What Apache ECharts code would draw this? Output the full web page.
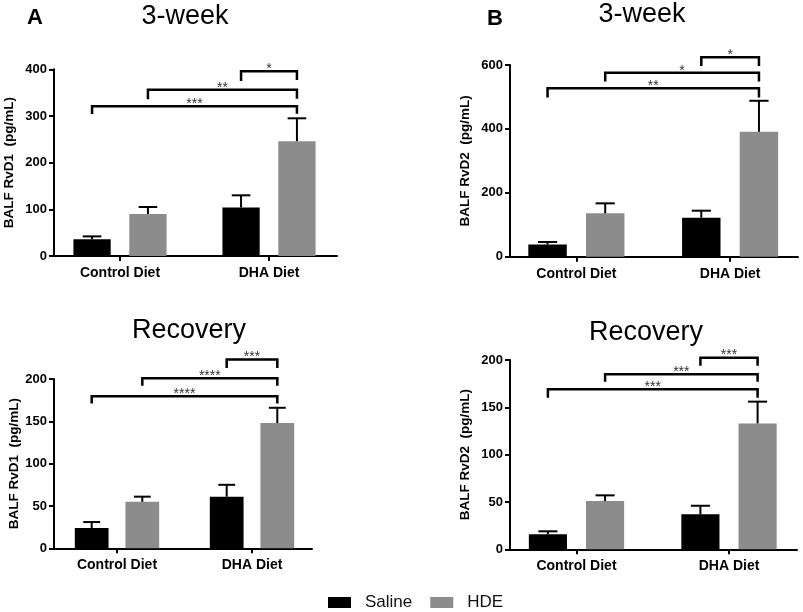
<!DOCTYPE html>
<html><head><meta charset="utf-8">
<script src="https://cdn.jsdelivr.net/npm/echarts@6/dist/echarts.min.js"></script>
<style>html,body{margin:0;padding:0;background:#fff}#c{width:803px;height:612px}</style>
</head><body><div id="c"></div><script>
// ---------- data ----------
const categories = ['Control Diet', 'DHA Diet'];
const groupNames = ['Saline', 'HDE'];
const panelLetters = ['A', 'B', '', ''];
const panelTitles = ['3-week', '3-week', 'Recovery', 'Recovery'];
const yAxisNames = ['BALF RvD1  (pg/mL)', 'BALF RvD2  (pg/mL)', 'BALF RvD1  (pg/mL)', 'BALF RvD2  (pg/mL)'];
const yMaxTicks = [400, 600, 200, 200];
const yTickSteps = [100, 200, 50, 50];

// Panel A: 3-week RvD1
const weekRvD1Saline = [36, 104];
const weekRvD1SalineErr = [6, 26];
const weekRvD1HDE = [90, 246];
const weekRvD1HDEErr = [15, 49];
// Panel B: 3-week RvD2
const weekRvD2Saline = [38, 122];
const weekRvD2SalineErr = [8, 22];
const weekRvD2HDE = [136, 391];
const weekRvD2HDEErr = [31, 97];
// Panel C: Recovery RvD1
const recRvD1Saline = [24, 61];
const recRvD1SalineErr = [7, 14];
const recRvD1HDE = [55, 148];
const recRvD1HDEErr = [6, 18];
// Panel D: Recovery RvD2
const recRvD2Saline = [16, 37];
const recRvD2SalineErr = [3, 9];
const recRvD2HDE = [51, 133];
const recRvD2HDEErr = [6, 23];

// significance brackets: [fromCategory, fromGroup, toCategory, toGroup, lineY, leftEndY, rightEndY]
const weekRvD1Brackets = [[1, 0, 1, 1, 396, 375, 377], [0, 1, 1, 1, 356, 336, 337], [0, 0, 1, 1, 321, 304, 305]];
const weekRvD1Stars = ['*', '**', '***'];
const weekRvD2Brackets = [[1, 0, 1, 1, 624, 597, 597], [0, 1, 1, 1, 576, 548, 548], [0, 0, 1, 1, 527, 498, 498]];
const weekRvD2Stars = ['*', '*', '**'];
const recRvD1Brackets = [[1, 0, 1, 1, 223, 213, 213], [0, 1, 1, 1, 201, 192, 192], [0, 0, 1, 1, 179.5, 171, 171]];
const recRvD1Stars = ['***', '****', '****'];
const recRvD2Brackets = [[1, 0, 1, 1, 202.5, 194, 194], [0, 1, 1, 1, 185, 177, 177], [0, 0, 1, 1, 169, 160, 160]];
const recRvD2Stars = ['***', '***', '***'];

const panels = [
  { saline: weekRvD1Saline, salineErr: weekRvD1SalineErr, hde: weekRvD1HDE, hdeErr: weekRvD1HDEErr, brackets: weekRvD1Brackets, stars: weekRvD1Stars },
  { saline: weekRvD2Saline, salineErr: weekRvD2SalineErr, hde: weekRvD2HDE, hdeErr: weekRvD2HDEErr, brackets: weekRvD2Brackets, stars: weekRvD2Stars },
  { saline: recRvD1Saline, salineErr: recRvD1SalineErr, hde: recRvD1HDE, hdeErr: recRvD1HDEErr, brackets: recRvD1Brackets, stars: recRvD1Stars },
  { saline: recRvD2Saline, salineErr: recRvD2SalineErr, hde: recRvD2HDE, hdeErr: recRvD2HDEErr, brackets: recRvD2Brackets, stars: recRvD2Stars }
];

// ---------- layout & style ----------
const FONT = '"Liberation Sans", Arial, Helvetica, sans-serif';
const COLORS = ['#000000', '#8c8c8c'];
const BAR_W = 0.25, BAR_GAP = 0.5;
const OFF = (BAR_W + BAR_W * BAR_GAP) / 2;
const layouts = [
  { top: 69.3, bottom: 256, axisL: 54, axisR: 337, dataL: 45.5, dataR: 343.5, nameGap: 38, titleX: 185, titleY: 3, letterX: 27, letterY: 6.5 },
  { top: 65, bottom: 256.7, axisL: 510, axisR: 798, dataL: 499.5, dataR: 807, nameGap: 38, titleX: 642, titleY: 1, letterX: 487, letterY: 7.5 },
  { top: 379, bottom: 548.3, axisL: 54, axisR: 312, dataL: 49.5, dataR: 319.5, nameGap: 32, titleX: 189, titleY: 317.5 },
  { top: 360, bottom: 549.3, axisL: 510, axisR: 797, dataL: 500.25, dataR: 805.25, nameGap: 38, titleX: 646, titleY: 319 }
];

function groupX(api, cat, g) {
  const band = api.size([1, 0])[0];
  const p = api.coord([cat, 0]);
  return p[0] + (g === 0 ? -1 : 1) * OFF * band;
}

function renderError(params, api) {
  const cat = api.value(0), g = api.value(1);
  const band = api.size([1, 0])[0];
  const x = groupX(api, cat, g);
  const yMean = api.coord([cat, api.value(2)])[1];
  const yUp = api.coord([cat, api.value(3)])[1];
  const cap = band * BAR_W * 0.25;
  const st = { stroke: '#000', lineWidth: 2 };
  return { type: 'group', children: [
    { type: 'line', shape: { x1: x, y1: yMean, x2: x, y2: yUp }, style: st },
    { type: 'line', shape: { x1: x - cap, y1: yUp, x2: x + cap, y2: yUp }, style: st }
  ] };
}

function makeBracketRenderer(stars) {
  return function (params, api) {
    const x1 = groupX(api, api.value(0), api.value(1));
    const x2 = groupX(api, api.value(2), api.value(3));
    const yL = api.coord([0, api.value(4)])[1];
    const yB1 = api.coord([0, api.value(5)])[1];
    const yB2 = api.coord([0, api.value(6)])[1];
    return { type: 'group', children: [
      { type: 'polyline', shape: { points: [[x1, yB1], [x1, yL], [x2, yL], [x2, yB2]] },
        style: { stroke: '#000', lineWidth: 2.5, fill: null } },
      { type: 'text', x: (x1 + x2) / 2, y: yL - 2,
        style: { text: stars[params.dataIndex], align: 'center', verticalAlign: 'middle',
          fontSize: 14, fontFamily: FONT, fill: '#333' } }
    ] };
  };
}

const grid = [], xAxis = [], yAxis = [], series = [], graphic = [];
panels.forEach((p, i) => {
  const L = layouts[i];
  const dg = 2 * i, ag = 2 * i + 1;
  grid.push({ left: L.dataL, top: L.top, width: L.dataR - L.dataL, height: L.bottom - L.top, outerBoundsMode: 'none', containLabel: false });
  grid.push({ left: L.axisL, top: L.top, width: L.axisR - L.axisL, height: L.bottom - L.top, outerBoundsMode: 'none', containLabel: false });
  xAxis.push({ gridIndex: dg, type: 'category', data: categories,
    axisLine: { show: false },
    axisTick: { show: true, alignWithLabel: true, length: 5, lineStyle: { color: '#000', width: 2 } },
    axisLabel: { fontSize: 14, fontWeight: 'bold', color: '#000', fontFamily: FONT, margin: 10 },
    splitLine: { show: false } });
  xAxis.push({ gridIndex: ag, type: 'value', min: 0, max: 1,
    axisLine: { show: true, onZero: false, lineStyle: { color: '#000', width: 2 } },
    axisTick: { show: false }, axisLabel: { show: false }, splitLine: { show: false } });
  yAxis.push({ gridIndex: dg, type: 'value', min: 0, max: yMaxTicks[i], show: false, splitLine: { show: false } });
  yAxis.push({ gridIndex: ag, type: 'value', min: 0, max: yMaxTicks[i], interval: yTickSteps[i],
    name: yAxisNames[i], nameLocation: 'middle', nameGap: L.nameGap,
    nameTextStyle: { fontSize: 13.5, fontWeight: 'bold', color: '#000', fontFamily: FONT },
    axisLine: { show: true, lineStyle: { color: '#000', width: 2 } },
    axisTick: { show: true, length: 5, lineStyle: { color: '#000', width: 2 } },
    axisLabel: { fontSize: 13, fontWeight: 'bold', color: '#000', fontFamily: FONT, margin: 7 },
    splitLine: { show: false } });

  [p.saline, p.hde].forEach((vals, g) => {
    series.push({ type: 'bar', name: groupNames[g], xAxisIndex: dg, yAxisIndex: dg,
      data: vals, barWidth: (BAR_W * 100) + '%', barGap: (BAR_GAP * 100) + '%',
      itemStyle: { color: COLORS[g] }, z: 2 });
  });
  const errData = [];
  [[p.saline, p.salineErr], [p.hde, p.hdeErr]].forEach(([m, e], g) => {
    m.forEach((v, c) => errData.push([c, g, v, v + e[c]]));
  });
  series.push({ type: 'custom', name: 'err' + i, xAxisIndex: dg, yAxisIndex: dg,
    data: errData, encode: { x: 0, y: [2, 3] }, renderItem: renderError, z: 3 });
  series.push({ type: 'custom', name: 'sig' + i, xAxisIndex: dg, yAxisIndex: dg,
    data: p.brackets, encode: { x: [0, 2], y: [4, 5, 6] }, renderItem: makeBracketRenderer(p.stars), z: 3, clip: false });

  graphic.push({ type: 'text', x: L.titleX, y: L.titleY,
    style: { text: panelTitles[i], align: 'center', verticalAlign: 'top', fontSize: 27, fontFamily: FONT, fill: '#000' } });
  if (panelLetters[i]) {
    graphic.push({ type: 'text', x: L.letterX, y: L.letterY,
      style: { text: panelLetters[i], align: 'left', verticalAlign: 'top', fontSize: 22, fontWeight: 'bold', fontFamily: FONT, fill: '#000' } });
  }
});

const chart = echarts.init(document.getElementById('c'), null, { renderer: 'canvas' });
chart.setOption({
  animation: false,
  backgroundColor: '#fff',
  grid, xAxis, yAxis, series, graphic,
  legend: { data: groupNames, left: 323, top: 589, itemWidth: 23, itemHeight: 11, itemGap: 18, icon: 'rect',
    textStyle: { fontSize: 17, fontFamily: FONT, color: '#111', padding: [0, 0, 0, 9] } }
});
</script></body></html>
